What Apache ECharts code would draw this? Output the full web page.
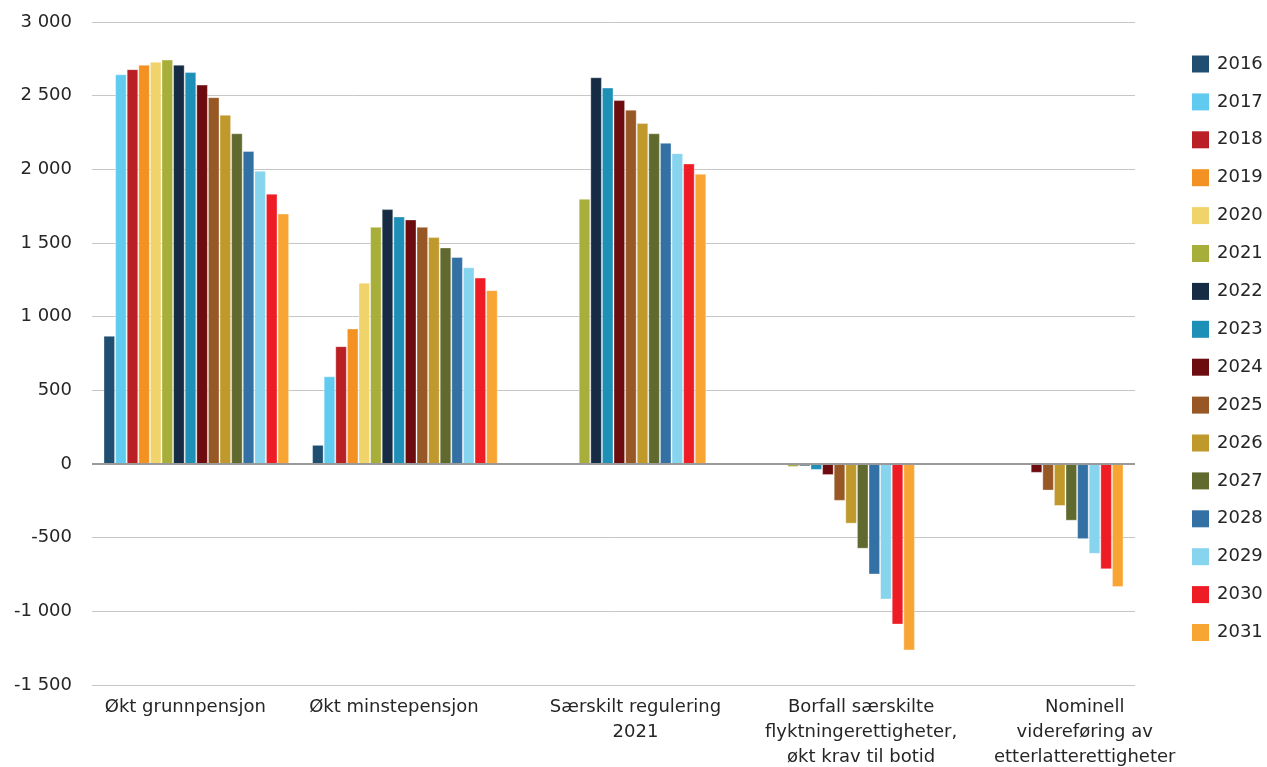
<!DOCTYPE html>
<html>
<head>
<meta charset="utf-8">
<script src="https://cdn.jsdelivr.net/npm/echarts@6/dist/echarts.min.js"></script>
<style>
  html, body { margin: 0; padding: 0; background: #fff; }
  #chart { width: 1267px; height: 767px; }
</style>
</head>
<body>
<div id="chart"></div>
<script>
// Tiltak (kategorier) på x-aksen
const categories = [
  'Økt grunnpensjon',
  'Økt minstepensjon',
  'Særskilt regulering\n2021',
  'Borfall særskilte\nflyktningerettigheter,\nøkt krav til botid',
  'Nominell\nvidereføring av\netterlatterettigheter'
];

// År (én serie per år)
const years = ['2016','2017','2018','2019','2020','2021','2022','2023',
               '2024','2025','2026','2027','2028','2029','2030','2031'];

// Verdier per tiltak, ett tall per år (null = ingen virkning)
const grunnpensjon = [870, 2645, 2680, 2710, 2730, 2745, 2710, 2660,
                      2575, 2490, 2370, 2245, 2125, 1990, 1835, 1700];
const minstepensjon = [130, 595, 800, 920, 1230, 1610, 1730, 1680,
                       1660, 1610, 1540, 1470, 1405, 1335, 1265, 1180];
const saerskiltRegulering = [null, null, null, null, null, 1800, 2625, 2555,
                             2470, 2405, 2315, 2245, 2180, 2110, 2040, 1970];
const borfallFlyktning = [null, null, null, null, null, -20, -15, -40,
                          -75, -250, -405, -575, -750, -920, -1090, -1265];
const nominellEtterlatte = [null, null, null, null, null, null, null, null,
                            -60, -180, -285, -385, -510, -610, -715, -835];

// Y-akse
const yMin = -1500, yMax = 3000, yStep = 500;

const groups = [grunnpensjon, minstepensjon, saerskiltRegulering, borfallFlyktning, nominellEtterlatte];

const colors = ['#1F4E70','#61CBEF','#BA1F26','#F39122','#F1D36C','#A8AE3A','#152C44','#1E8FB7',
                '#6D0C0F','#975825','#C0992D','#606A2E','#3370A3','#86D4EE','#EE1C25','#F9A533'];

// horizontal nudge of each category label (px)
const labelShift = [-11, -11, 22, 39, 54];

const font = 'DejaVu Sans, Verdana, sans-serif';
const textColor = '#262626';

const rich = {};
labelShift.forEach((s, i) => {
  rich['c' + i] = {
    fontFamily: font, fontSize: 18, color: textColor, lineHeight: 25,
    padding: s >= 0 ? [0, 0, 0, 2 * s] : [0, -2 * s, 0, 0]
  };
});

const series = years.map((yr, k) => ({
  name: yr,
  type: 'bar',
  barGap: '0%',
  barCategoryGap: '11%',
  data: groups.map(g => g[k]),
  itemStyle: { color: colors[k], borderColor: 'rgba(255,255,255,0.35)', borderWidth: 1 },
  emphasis: { disabled: true }
}));

// darker zero line across the plot
series[0].markLine = {
  silent: true,
  symbol: 'none',
  label: { show: false },
  lineStyle: { color: '#9a9a9a', width: 2, type: 'solid' },
  data: [{ yAxis: 0 }]
};

const chart = echarts.init(document.getElementById('chart'), null, { renderer: 'canvas' });
chart.setOption({
  animation: false,
  color: colors,
  textStyle: { fontFamily: font },
  grid: { left: 92, right: 132, top: 22, bottom: 82, containLabel: false },
  legend: {
    orient: 'vertical',
    left: 1192,
    top: 55,
    padding: 0,
    itemWidth: 17,
    itemHeight: 17,
    itemGap: 19.9,
    itemStyle: { borderWidth: 0 },
    icon: 'rect',
    textStyle: { fontFamily: font, fontSize: 18, color: textColor, padding: [0, 0, 0, 3] },
    data: years
  },
  xAxis: {
    type: 'category',
    data: categories,
    axisLine: { show: false, onZero: false },
    axisTick: { show: false },
    axisLabel: {
      interval: 0,
      margin: 10,
      formatter: (v, i) => v.split('\n').map(l => '{c' + i + '|' + l + '}').join('\n'),
      rich: rich
    }
  },
  yAxis: {
    type: 'value',
    min: yMin,
    max: yMax,
    interval: yStep,
    axisLine: { show: false },
    axisTick: { show: false },
    splitLine: { lineStyle: { color: '#c6c6c6', width: 1 } },
    axisLabel: {
      fontFamily: font,
      fontSize: 18,
      color: textColor,
      margin: 20,
      formatter: v => {
        const s = Math.abs(v).toString().replace(/\B(?=(\d{3})+(?!\d))/g, ' ');
        return (v < 0 ? '-' : '') + s;
      }
    }
  },
  series: series
});
</script>
</body>
</html>
